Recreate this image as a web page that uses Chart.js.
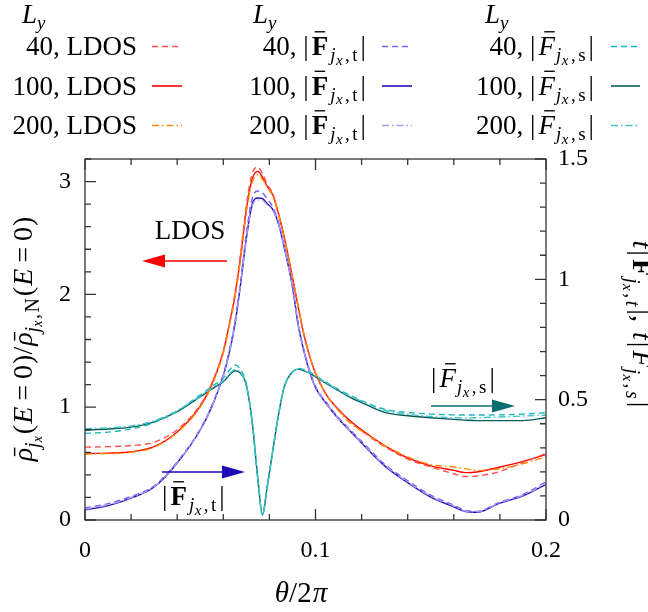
<!DOCTYPE html>
<html>
<head>
<meta charset="utf-8">
<script src="https://cdn.jsdelivr.net/npm/chart.js@4.4.1/dist/chart.umd.min.js"></script>
<style>
  html, body { margin: 0; padding: 0; background: #fff; }
  #wrap { position: relative; width: 648px; height: 612px; }
</style>
</head>
<body>
<div id="wrap"><canvas id="myChart"></canvas></div>
<script>
// theta / 2pi
const theta = [0, 0.01, 0.02, 0.03, 0.04, 0.05, 0.055, 0.06, 0.0625, 0.065, 0.0675, 0.07, 0.0725, 0.075, 0.077, 0.079, 0.0815, 0.084, 0.0865, 0.09,
  0.0925, 0.095, 0.0975, 0.1, 0.105, 0.11, 0.115, 0.12, 0.13, 0.14, 0.15, 0.16, 0.165, 0.17, 0.18, 0.19, 0.2];

// LDOS, left axis
const ldos40 = [0.646, 0.65, 0.66, 0.69, 0.80, 1.02, 1.21, 1.50, 1.73, 2.00, 2.36, 2.79, 3.07, 3.13, 3.07, 2.98, 2.89, 2.71, 2.50, 2.15,
  1.89, 1.64, 1.45, 1.30, 1.10, 0.98, 0.87, 0.79, 0.65, 0.54, 0.47, 0.41, 0.385, 0.39, 0.43, 0.51, 0.59];
const ldos100 = [0.59, 0.593, 0.605, 0.65, 0.78, 1.01, 1.20, 1.49, 1.72, 1.98, 2.33, 2.75, 3.02, 3.09, 3.04, 2.96, 2.88, 2.71, 2.50, 2.15,
  1.89, 1.64, 1.45, 1.30, 1.10, 0.98, 0.88, 0.80, 0.66, 0.55, 0.48, 0.44, 0.42, 0.425, 0.47, 0.52, 0.58];
const ldos200 = [0.585, 0.59, 0.60, 0.645, 0.775, 1.00, 1.19, 1.48, 1.71, 1.97, 2.31, 2.73, 2.99, 3.06, 3.02, 2.95, 2.87, 2.71, 2.50, 2.15,
  1.89, 1.64, 1.45, 1.30, 1.10, 0.97, 0.86, 0.79, 0.66, 0.56, 0.49, 0.47, 0.455, 0.44, 0.455, 0.50, 0.56];

// |F_t|, right axis
const ft40 = [0.05, 0.068, 0.098, 0.142, 0.242, 0.378, 0.475, 0.605, 0.70, 0.82, 0.99, 1.19, 1.335, 1.367, 1.36, 1.335, 1.30, 1.235, 1.135, 0.975,
  0.815, 0.705, 0.62, 0.555, 0.485, 0.425, 0.375, 0.327, 0.232, 0.163, 0.103, 0.062, 0.04, 0.036, 0.074, 0.106, 0.159];
const ft100 = [0.042, 0.06, 0.091, 0.137, 0.237, 0.374, 0.47, 0.60, 0.69, 0.81, 0.98, 1.17, 1.31, 1.338, 1.335, 1.315, 1.29, 1.23, 1.13, 0.97,
  0.81, 0.70, 0.615, 0.55, 0.48, 0.42, 0.37, 0.32, 0.225, 0.155, 0.095, 0.055, 0.035, 0.032, 0.07, 0.10, 0.148];
const ft200 = [0.045, 0.063, 0.093, 0.139, 0.238, 0.375, 0.471, 0.60, 0.69, 0.81, 0.98, 1.17, 1.305, 1.33, 1.328, 1.31, 1.287, 1.228, 1.13, 0.97,
  0.81, 0.70, 0.615, 0.55, 0.48, 0.42, 0.37, 0.322, 0.228, 0.158, 0.098, 0.058, 0.037, 0.034, 0.072, 0.102, 0.152];

// |F_s|, right axis
const fs40 = [0.36, 0.365, 0.378, 0.405, 0.452, 0.52, 0.555, 0.59, 0.62, 0.644, 0.625, 0.565, 0.41, 0.17, 0.022, 0.135, 0.29, 0.44, 0.555, 0.615,
  0.63, 0.625, 0.615, 0.60, 0.57, 0.543, 0.518, 0.496, 0.46, 0.447, 0.44, 0.437, 0.436, 0.436, 0.437, 0.44, 0.446];
const fs100 = [0.374, 0.378, 0.386, 0.408, 0.45, 0.512, 0.545, 0.575, 0.60, 0.62, 0.61, 0.56, 0.41, 0.17, 0.022, 0.135, 0.29, 0.44, 0.555, 0.615,
  0.627, 0.62, 0.61, 0.595, 0.565, 0.537, 0.51, 0.488, 0.447, 0.433, 0.425, 0.418, 0.415, 0.413, 0.413, 0.413, 0.425];
const fs200 = [0.379, 0.383, 0.391, 0.412, 0.455, 0.515, 0.548, 0.578, 0.605, 0.625, 0.612, 0.56, 0.41, 0.17, 0.022, 0.135, 0.29, 0.44, 0.555, 0.615,
  0.627, 0.62, 0.61, 0.597, 0.568, 0.54, 0.515, 0.494, 0.456, 0.44, 0.43, 0.425, 0.424, 0.425, 0.428, 0.432, 0.436];

const sizes = ['40', '100', '200'];
const xTicks = [0, 0.1, 0.2];
const leftTicks = [0, 1, 2, 3];
const rightTicks = [0, 0.5, 1, 1.5];

const SERIF = '"Liberation Serif", "Times New Roman", "DejaVu Serif", serif';
const rm = s => `${s}px ${SERIF}`;
const it = s => `italic ${s}px ${SERIF}`;
const bf = s => `bold ${s}px ${SERIF}`;

const DASH = [6, 4];
const DASHDOT = [7, 3, 1.5, 3];

function pts(arr) {
    return theta.map((t, i) => ({ x: t, y: arr[i] }));
}
function line(label, arr, color, dash, axis, order) {
    return {
        label: label, data: pts(arr), borderColor: color, borderDash: dash, borderWidth: 1.4,
        pointRadius: 0, cubicInterpolationMode: 'monotone', yAxisID: axis, order: order, fill: false
    };
}

const datasets = [
    line('40, LDOS', ldos40, '#ff5050', DASH, 'y', 2),
    line('100, LDOS', ldos100, '#ff0000', [], 'y', 3),
    line('200, LDOS', ldos200, '#ff8c00', DASHDOT, 'y', 1),
    line('40, Ft', ft40, '#7460f4', DASH, 'y2', 2),
    line('100, Ft', ft100, '#2410b8', [], 'y2', 3),
    line('200, Ft', ft200, '#a898f6', DASHDOT, 'y2', 1),
    line('40, Fs', fs40, '#1cb8b8', DASH, 'y2', 2),
    line('100, Fs', fs100, '#0a5c5c', [], 'y2', 3),
    line('200, Fs', fs200, '#40c4cc', DASHDOT, 'y2', 1)
];

// ---------- rich text helpers ----------
function richWidth(ctx, parts) {
    let w = 0;
    parts.forEach(p => { ctx.font = p.f; w += ctx.measureText(p.t).width + (p.sp || 0); });
    return w;
}
function drawRich(ctx, parts, x, y, align) {
    const w = richWidth(ctx, parts);
    let cx = align === 'right' ? x - w : align === 'center' ? x - w / 2 : x;
    ctx.textBaseline = 'alphabetic';
    ctx.textAlign = 'left';
    parts.forEach(p => {
        ctx.font = p.f;
        const pw = ctx.measureText(p.t).width;
        ctx.fillText(p.t, cx, y + (p.dy || 0));
        if (p.bar) {
            const s = p.size;
            const by = y - p.bar * s;
            const sh = p.italic ? s * 0.1 : 0;
            ctx.save();
            ctx.lineWidth = Math.max(1, s * 0.05);
            ctx.strokeStyle = ctx.fillStyle;
            ctx.beginPath();
            ctx.moveTo(cx + pw * 0.18 + sh, by);
            ctx.lineTo(cx + pw * 0.82 + sh, by);
            ctx.stroke();
            ctx.restore();
        }
        cx += pw + (p.sp || 0);
    });
}
function fLabel(s, boldF, tail, italicSub, withBar) {
    const a = Math.round(s * 0.72), b = Math.round(s * 0.54);
    return [
        { t: '|', f: rm(s), sp: 3 },
        { t: 'F', f: boldF ? bf(s) : it(s), sp: boldF ? 2 : 1, bar: withBar ? 0.86 : 0, size: s, italic: !boldF },
        { t: 'j', f: it(a), dy: s * 0.24, sp: 0.5 },
        { t: 'x', f: it(b), dy: s * 0.36, sp: 2.5 },
        { t: ',', f: rm(a), dy: s * 0.24, sp: 2.5 },
        { t: tail, f: italicSub ? it(a) : rm(a), dy: s * 0.24, sp: 3 },
        { t: '|', f: rm(s) }
    ];
}
function rhoPart(s, tail) {
    const a = Math.round(s * 0.7), b = Math.round(s * 0.5);
    const p = [
        { t: 'ρ', f: it(s), bar: 0.62, size: s, italic: true },
        { t: 'j', f: it(a), dy: s * 0.24 },
        { t: 'x', f: it(b), dy: s * 0.36, sp: tail ? 1.5 : 2 }
    ];
    if (tail) {
        p.push({ t: ',', f: rm(a), dy: s * 0.24, sp: 1.5 });
        p.push({ t: tail, f: rm(a), dy: s * 0.24, sp: 2 });
    }
    return p;
}
function eqPart(s) {
    return [
        { t: '(', f: rm(s), sp: 1 },
        { t: 'E', f: it(s), sp: 6 },
        { t: '=', f: rm(s), sp: 6 },
        { t: '0', f: rm(s), sp: 1 },
        { t: ')', f: rm(s) }
    ];
}
function arrow(ctx, x0, x1, y, color) {
    const dir = Math.sign(x1 - x0), head = 23;
    ctx.save();
    ctx.strokeStyle = color; ctx.fillStyle = color; ctx.lineWidth = 1.6;
    ctx.beginPath(); ctx.moveTo(x0, y); ctx.lineTo(x1 - dir * head, y); ctx.stroke();
    ctx.beginPath(); ctx.moveTo(x1, y); ctx.lineTo(x1 - dir * head, y - 6.5); ctx.lineTo(x1 - dir * head, y + 6.5);
    ctx.closePath(); ctx.fill();
    ctx.restore();
}

const decor = {
    id: 'decor',
    afterDraw(chart) {
        const ctx = chart.ctx;
        const { left, right, top, bottom } = chart.chartArea;
        const sx = chart.scales.x, sy = chart.scales.y, sy2 = chart.scales.y2;
        ctx.save();
        // frame and inward ticks
        ctx.strokeStyle = '#333'; ctx.lineWidth = 1.3;
        ctx.strokeRect(left, top, right - left, bottom - top);
        ctx.beginPath();
        for (let i = 0; i <= 10; i++) {
            const px = sx.getPixelForValue(i * 0.02), L = i % 5 === 0 ? 11 : 6;
            ctx.moveTo(px, bottom); ctx.lineTo(px, bottom - L);
            ctx.moveTo(px, top); ctx.lineTo(px, top + L);
        }
        for (let i = 0; i <= 16; i++) {
            const py = sy.getPixelForValue(i * 0.2), L = i % 5 === 0 ? 11 : 6;
            ctx.moveTo(left, py); ctx.lineTo(left + L, py);
        }
        for (let i = 0; i <= 15; i++) {
            const py = sy2.getPixelForValue(i * 0.1), L = i % 5 === 0 ? 11 : 6;
            ctx.moveTo(right, py); ctx.lineTo(right - L, py);
        }
        ctx.stroke();

        ctx.fillStyle = '#000';
        // legend, three columns
        const colX = [22, 253, 485], textR = [137, 366, 594], lineX = [[152, 182], [382, 412], [611, 640]];
        const rowY = [55, 94.5, 134];
        for (let c = 0; c < 3; c++) {
            drawRich(ctx, [{ t: 'L', f: it(27) }, { t: 'y', f: it(19), dy: 6 }], colX[c], 23, 'left');
            for (let r = 0; r < 3; r++) {
                const ds = datasets[c * 3 + r];
                let parts;
                if (c === 0) parts = [{ t: sizes[r] + ', LDOS', f: rm(27) }];
                else parts = [{ t: sizes[r] + ', ', f: rm(27) }].concat(fLabel(27, c === 1, c === 1 ? 't' : 's', false, true));
                ctx.fillStyle = '#000';
                drawRich(ctx, parts, textR[c], rowY[r], 'right');
                ctx.save();
                ctx.strokeStyle = ds.borderColor; ctx.lineWidth = 1.6; ctx.setLineDash(ds.borderDash);
                ctx.beginPath(); ctx.moveTo(lineX[c][0], rowY[r] - 8.5); ctx.lineTo(lineX[c][1], rowY[r] - 8.5); ctx.stroke();
                ctx.restore();
            }
        }

        // annotations
        ctx.fillStyle = '#000';
        drawRich(ctx, [{ t: 'LDOS', f: rm(27) }], 190, 239, 'center');
        arrow(ctx, 227, 142, 261, '#ff0000');
        arrow(ctx, 162, 245, 472, '#1a0ab8');
        ctx.fillStyle = '#000';
        drawRich(ctx, fLabel(27, true, 't', false, true), 162, 505, 'left');
        arrow(ctx, 431, 515, 406, '#0b6e6e');
        ctx.fillStyle = '#000';
        drawRich(ctx, fLabel(27, false, 's', false, true), 431, 387, 'left');

        // x title
        drawRich(ctx, [{ t: 'θ', f: it(29) }, { t: '/2', f: rm(29), sp: 1 }, { t: 'π', f: it(29) }], 301, 602, 'center');

        // left title
        const s = 28;
        const leftParts = [].concat(rhoPart(s), eqPart(s), [{ t: '/', f: rm(s), sp: 1 }], rhoPart(s, 'N'), eqPart(s));
        ctx.save();
        ctx.translate(32, 339);
        ctx.rotate(-Math.PI / 2);
        drawRich(ctx, leftParts, 0, 0, 'center');
        ctx.restore();

        // right title
        const s2 = 28;
        const rightParts = [].concat(
            [{ t: 't', f: it(s2), sp: 2 }], fLabel(s2, true, 't', true, false),
            [{ t: ',', f: rm(s2), sp: 10 }, { t: 't', f: it(s2), sp: 2 }], fLabel(s2, false, 's', true, false));
        ctx.save();
        ctx.translate(633, 324);
        ctx.rotate(Math.PI / 2);
        drawRich(ctx, rightParts, 0, 0, 'center');
        ctx.restore();

        ctx.restore();
    }
};

const tickFont = { family: SERIF, size: 24 };
new Chart(document.getElementById('myChart'), {
    type: 'line',
    data: { datasets: datasets },
    options: {
        responsive: true,
        maintainAspectRatio: false,
        animation: false,
        layout: { padding: { top: 159, left: 0, right: 0, bottom: 0 } },
        plugins: { legend: { display: false }, tooltip: { enabled: false } },
        scales: {
            x: {
                type: 'linear', min: 0, max: 0.2,
                grid: { display: false, drawTicks: false }, border: { display: false },
                ticks: { font: tickFont, color: '#000', padding: 16, maxRotation: 0, callback: v => String(v) },
                afterBuildTicks: sc => { sc.ticks = xTicks.map(v => ({ value: v })); },
                afterFit: sc => { sc.height = 92; }
            },
            y: {
                position: 'left', min: 0, max: 3.2,
                grid: { display: false, drawTicks: false }, border: { display: false },
                ticks: { font: tickFont, color: '#000', padding: 14, callback: v => String(v) },
                afterBuildTicks: sc => { sc.ticks = leftTicks.map(v => ({ value: v })); },
                afterFit: sc => { sc.width = 85; }
            },
            y2: {
                position: 'right', min: 0, max: 1.5,
                grid: { display: false, drawTicks: false }, border: { display: false },
                ticks: { font: tickFont, color: '#000', padding: 12, callback: v => String(v) },
                afterBuildTicks: sc => { sc.ticks = rightTicks.map(v => ({ value: v })); },
                afterFit: sc => { sc.width = 102; }
            }
        }
    },
    plugins: [decor]
});
</script>
</body>
</html>
